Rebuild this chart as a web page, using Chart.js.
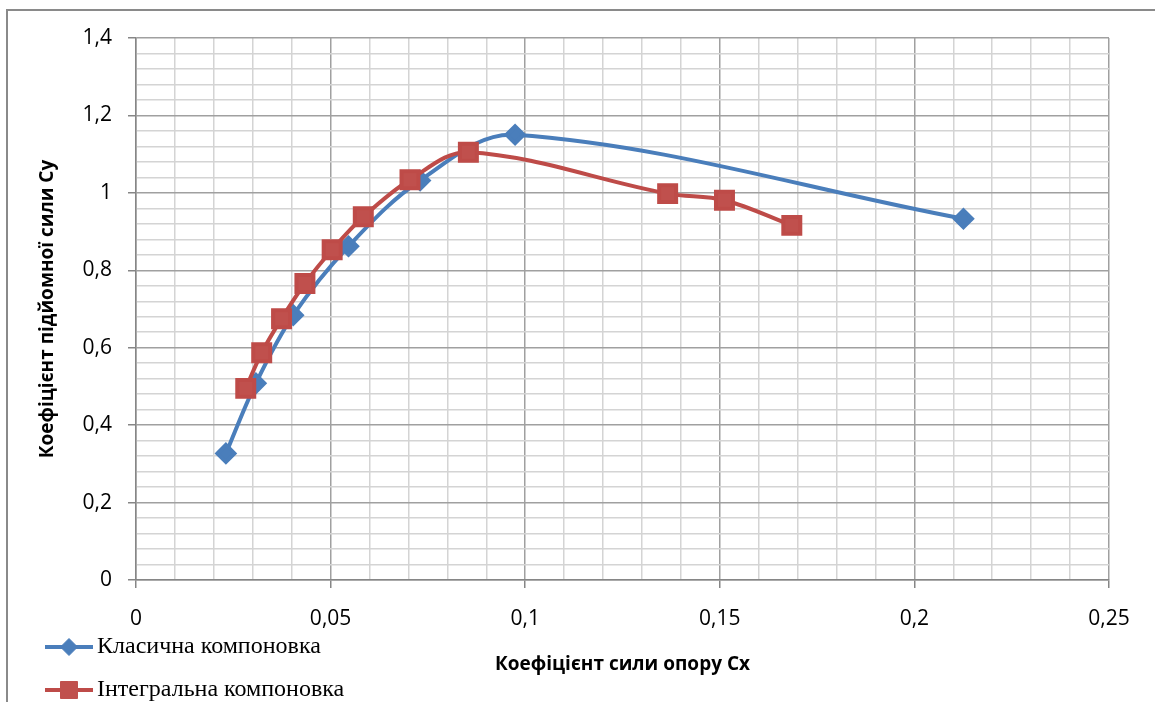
<!DOCTYPE html>
<html>
<head>
<meta charset="utf-8">
<script src="https://cdn.jsdelivr.net/npm/chart.js@4"></script>
<style>
  body { margin: 0; background: #fff; }
</style>
</head>
<body>
<canvas id="grafik" width="1155" height="702"></canvas>
<script>
// Класична компоновка
const klasCx = [0.0231, 0.0308, 0.0404, 0.0546, 0.0730, 0.0974, 0.2126];
const klasCy = [0.327, 0.508, 0.684, 0.862, 1.032, 1.150, 0.933];
// Інтегральна компоновка
const intCx = [0.0282, 0.0323, 0.0374, 0.0434, 0.0504, 0.0584, 0.0704, 0.0854, 0.1366, 0.1512, 0.1685];
const intCy = [0.495, 0.587, 0.675, 0.766, 0.853, 0.938, 1.034, 1.105, 0.998, 0.981, 0.916];

const nazvy = ["Класична компоновка", "Інтегральна компоновка"];
const xMaj = 0.05, yMaj = 0.2;

function toPoints(xs, ys) {
    return xs.map((x, i) => ({ x: x, y: ys[i] }));
}
function isMajor(v, step) {
    return Math.abs(v / step - Math.round(v / step)) < 1e-6;
}
function fmt(v) {
    return String(Math.round(v * 100) / 100).replace('.', ',');
}

// рамка навколо діаграми
const ramka = {
    id: 'ramka',
    beforeDraw(chart) {
        const ctx = chart.ctx;
        ctx.save();
        ctx.strokeStyle = '#8a8a8a';
        ctx.lineWidth = 2;
        ctx.beginPath();
        ctx.moveTo(1155, 10);
        ctx.lineTo(7, 10);
        ctx.lineTo(7, 702);
        ctx.stroke();
        ctx.restore();
    }
};

// легенда внизу зліва, як в Excel
const legenda = {
    id: 'legenda',
    afterDraw(chart) {
        const ctx = chart.ctx;
        const rows = [647, 690];
        ctx.save();
        chart.data.datasets.forEach((ds, i) => {
            const y = rows[i];
            ctx.strokeStyle = ds.borderColor;
            ctx.lineWidth = 4;
            ctx.beginPath();
            ctx.moveTo(45, y);
            ctx.lineTo(93, y);
            ctx.stroke();
            ctx.fillStyle = ds.backgroundColor;
            ctx.strokeStyle = ds.backgroundColor;
            ctx.lineWidth = 1;
            Chart.helpers.drawPoint(ctx, { pointStyle: ds.pointStyle, radius: ds.pointRadius, borderWidth: 1, rotation: 0 }, 69, y);
            ctx.fillStyle = '#000';
            ctx.font = '24px "Liberation Serif"';
            ctx.textBaseline = 'middle';
            ctx.textAlign = 'left';
            ctx.fillText(ds.label, 97, y);
        });
        ctx.restore();
    }
};

Chart.defaults.font.family = '"Open Sans", sans-serif';
Chart.defaults.color = '#000';

const ctx = document.getElementById('grafik').getContext('2d');
const chart = new Chart(ctx, {
    type: 'scatter',
    data: {
        datasets: [
            {
                label: nazvy[0],
                data: toPoints(klasCx, klasCy),
                showLine: true,
                borderColor: '#4a7ebb',
                backgroundColor: '#4a7ebb',
                borderWidth: 4,
                tension: 0.35,
                pointStyle: 'rectRot',
                pointRadius: 8.5,
                pointHoverRadius: 8.5,
                order: 1
            },
            {
                label: nazvy[1],
                data: toPoints(intCx, intCy),
                showLine: true,
                borderColor: '#be4b48',
                backgroundColor: '#c0504d',
                borderWidth: 4,
                tension: 0.35,
                pointStyle: 'rect',
                pointRadius: 12,
                pointHoverRadius: 12,
                order: 0
            }
        ]
    },
    options: {
        responsive: false,
        animation: false,
        layout: { padding: { top: 38, right: 46, left: 0, bottom: 0 } },
        plugins: {
            legend: { display: false },
            tooltip: { enabled: false }
        },
        scales: {
            x: {
                type: 'linear',
                min: 0,
                max: 0.25,
                afterFit(scale) { scale.height = 122; },
                ticks: {
                    stepSize: 0.01,
                    autoSkip: false,
                    maxRotation: 0,
                    padding: 18,
                    font: { size: 21 },
                    callback: v => isMajor(v, xMaj) ? fmt(v) : ''
                },
                grid: {
                    color: c => isMajor(c.tick.value, xMaj) ? '#a0a0a0' : '#d4d4d4',
                    lineWidth: 1.5,
                    tickLength: 8,
                    tickColor: c => isMajor(c.tick.value, xMaj) ? '#868686' : 'rgba(0,0,0,0)'
                },
                border: { color: '#868686', width: 1.5 },
                title: {
                    display: true,
                    text: 'Коефіцієнт сили опору Сх',
                    font: { size: 19, weight: 'bold' },
                    padding: { top: 0, bottom: 25.6 }
                }
            },
            y: {
                min: 0,
                max: 1.4,
                afterFit(scale) { scale.width = 136; },
                ticks: {
                    stepSize: 0.04,
                    autoSkip: false,
                    padding: 16,
                    font: { size: 21 },
                    callback: v => isMajor(v, yMaj) ? fmt(v) : ''
                },
                grid: {
                    color: c => isMajor(c.tick.value, yMaj) ? '#a0a0a0' : '#d4d4d4',
                    lineWidth: 1.5,
                    tickLength: 8,
                    tickColor: c => isMajor(c.tick.value, yMaj) ? '#868686' : 'rgba(0,0,0,0)'
                },
                border: { color: '#868686', width: 1.5 },
                title: {
                    display: true,
                    text: 'Коефіцієнт підйомної сили Су',
                    font: { size: 19, weight: 'bold' },
                    padding: { top: 36.6, bottom: 0 }
                }
            }
        }
    },
    plugins: [ramka, legenda]
});
</script>
</body>
</html>
